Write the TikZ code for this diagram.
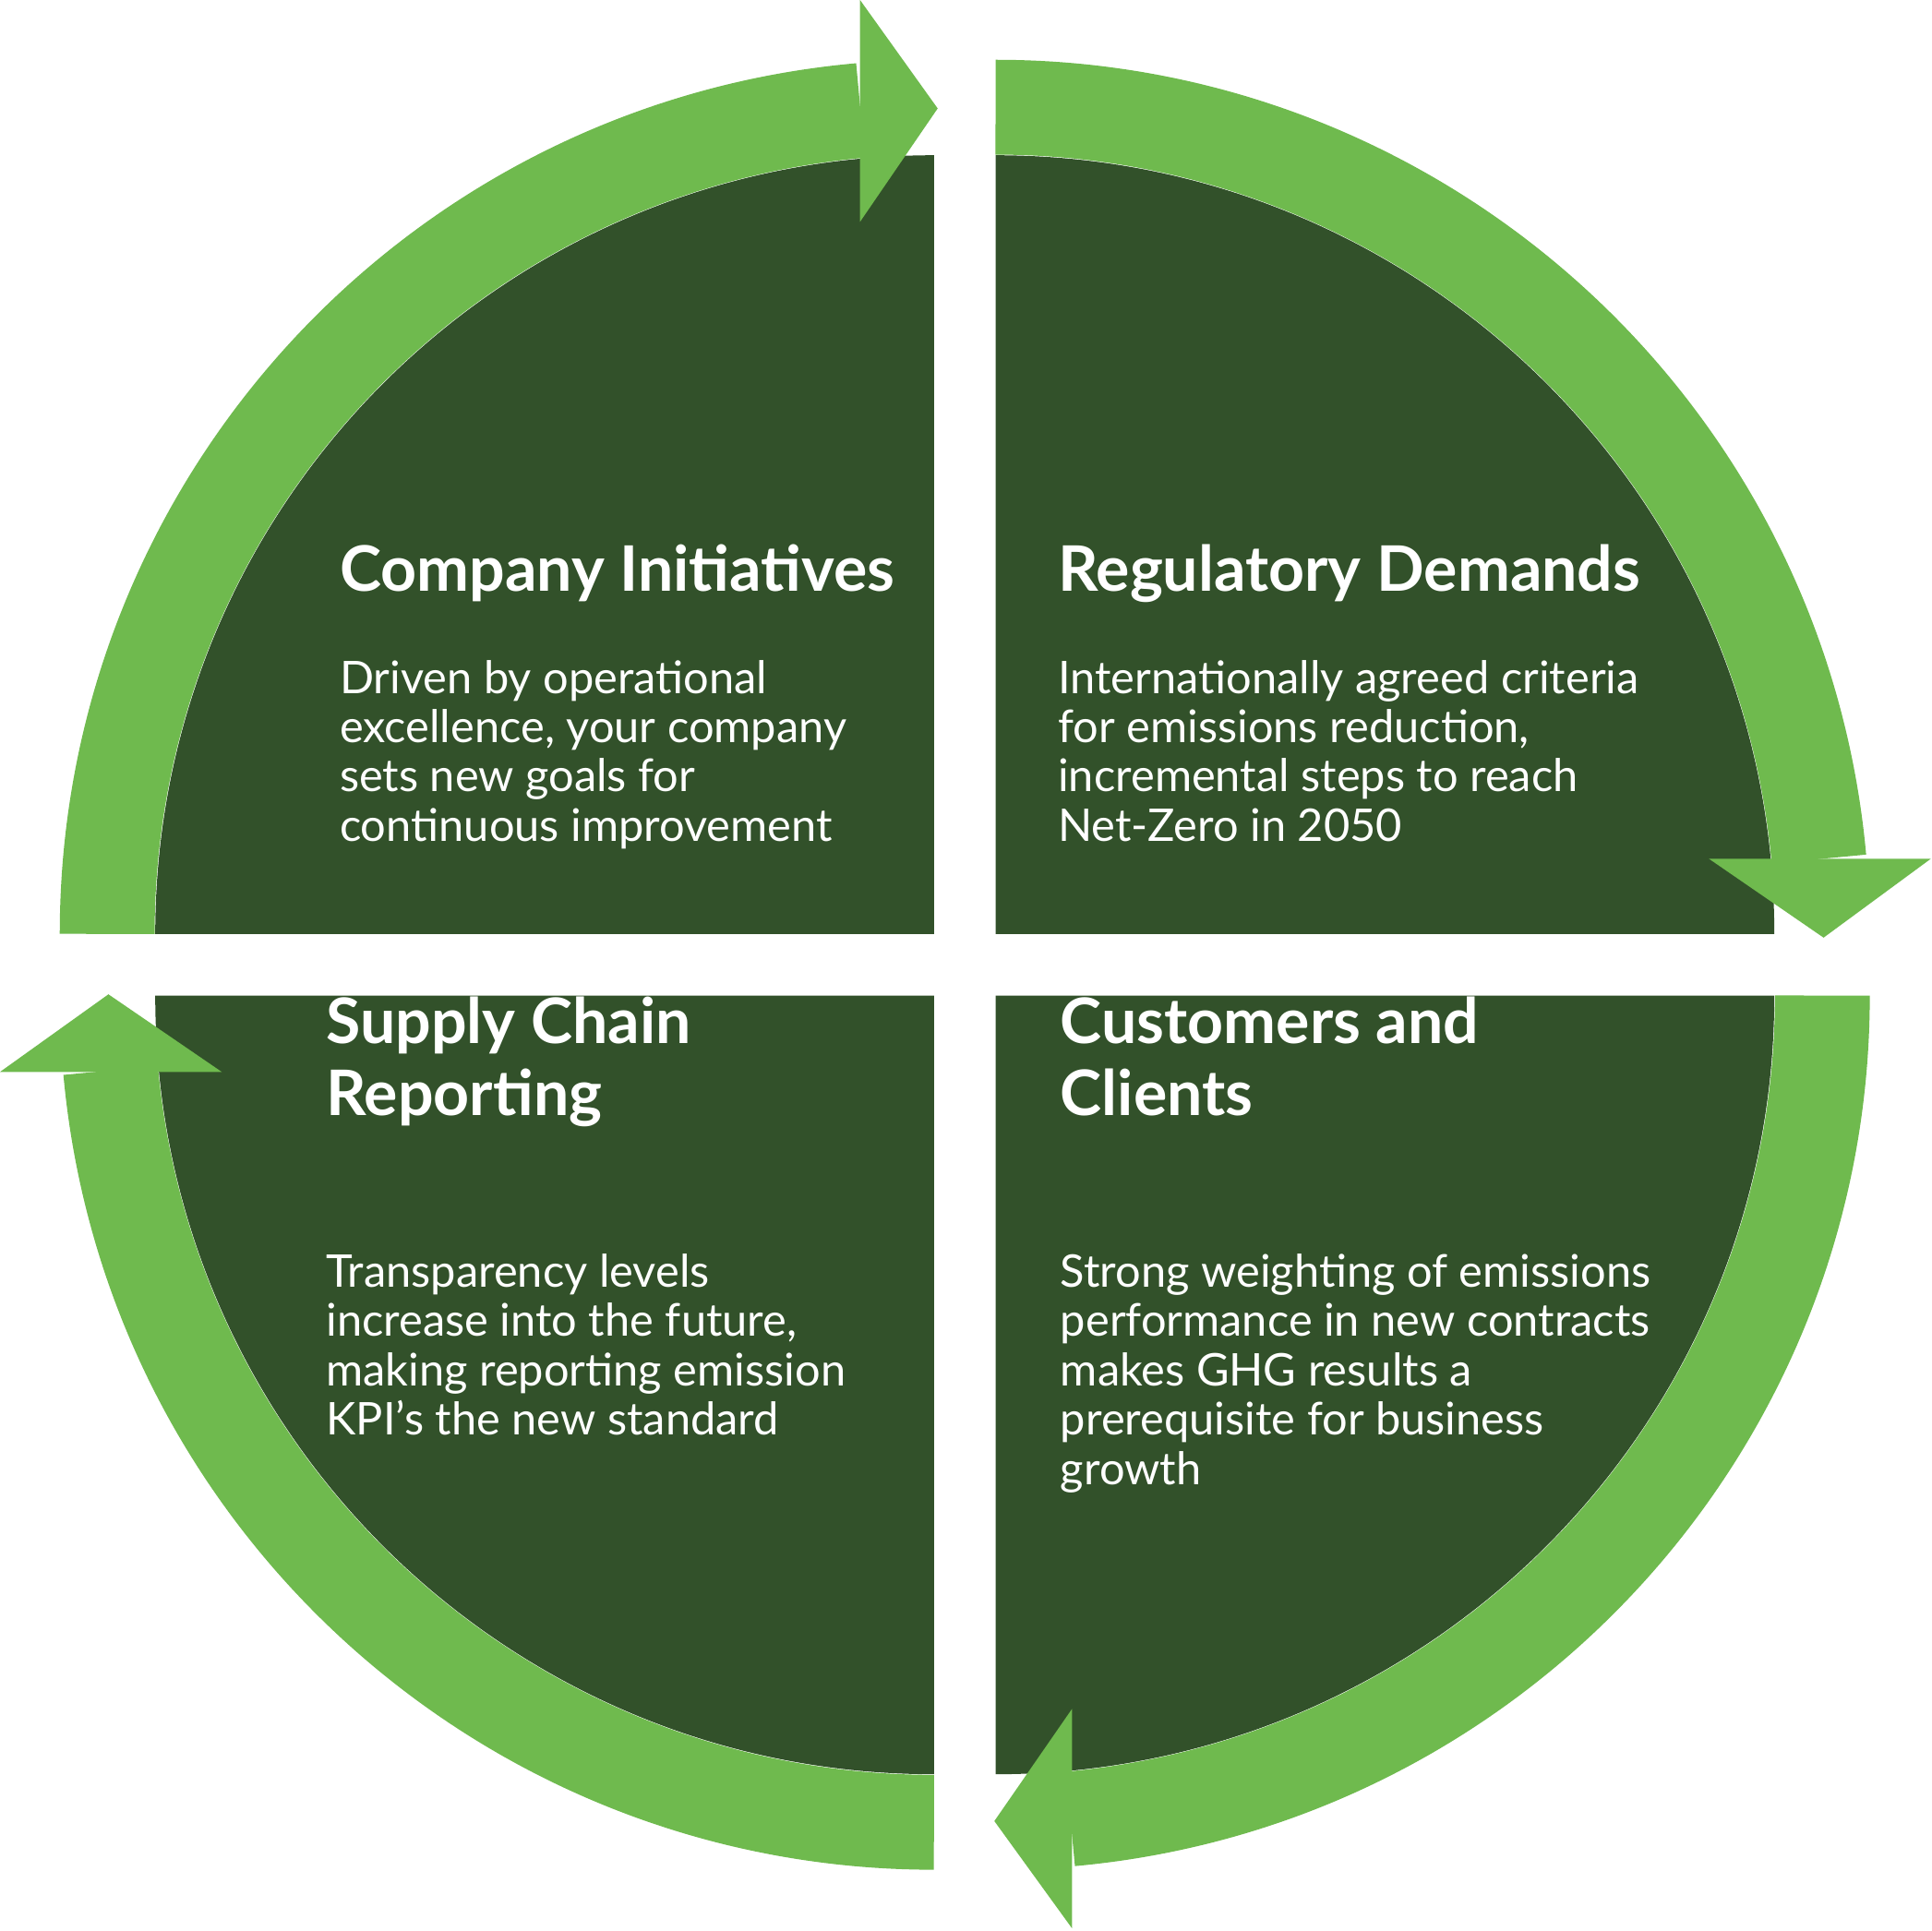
\documentclass[tikz,border=0pt]{standalone}
\usepackage{fontspec}
\setmainfont{Lato}
\usetikzlibrary{calc}
\usetikzlibrary{positioning}

\definecolor{ringgreen}{HTML}{6FBA4E}
\definecolor{darkgreen}{HTML}{32512A}

\tikzset{
  ring/.style = {draw = ringgreen, line width = 0.77cm},
  quad/.style = {fill = darkgreen},
  head/.style = {fill = ringgreen},
  title/.style = {anchor = base west, inner sep = 0pt, text = white,
    font = \bfseries\fontsize{14.5}{16.5}\selectfont, align = left},
  body/.style = {anchor = north west, inner sep = 0pt, text = white,
    font = \fontsize{10.4}{11.4}\selectfont, align = left}
}

\begin{document}
\begin{tikzpicture}
  \useasboundingbox (0, 0) rectangle (15.68, -15.67);

  \coordinate (TL) at (7.58, -7.58);
  \coordinate (TR) at (8.08, -7.58);
  \coordinate (BR) at (8.08, -8.08);
  \coordinate (BL) at (7.58, -8.08);

  % dark quarters
  \fill[quad] (TL) -- ++(180:6.32) arc[start angle = 180, end angle = 90, radius = 6.32] -- cycle;
  \fill[quad] (TR) -- ++(90:6.32) arc[start angle = 90, end angle = 0, radius = 6.32] -- cycle;
  \fill[quad] (BR) -- ++(0:6.32) arc[start angle = 0, end angle = -90, radius = 6.32] -- cycle;
  \fill[quad] (BL) -- ++(270:6.32) arc[start angle = 270, end angle = 180, radius = 6.32] -- cycle;

  % green ring pieces
  \draw[ring] ($(TL) + (180:6.71)$) arc[start angle = 180, end angle = 95.1, radius = 6.71];
  \draw[ring] ($(TR) + (90:6.71)$) arc[start angle = 90, end angle = 5.2, radius = 6.71];
  \draw[ring] ($(BR) + (0:6.71)$) arc[start angle = 0, end angle = -84.8, radius = 6.71];
  \draw[ring] ($(BL) + (270:6.71)$) arc[start angle = 270, end angle = 185.2, radius = 6.71];

  % arrow heads
  \fill[head] (6.98, 0) -- (6.98, -1.80) -- (7.61, -0.88) -- cycle;
  \fill[head] (13.87, -6.97) -- (15.67, -6.97) -- (14.80, -7.61) -- cycle;
  \fill[head] (8.70, -13.87) -- (8.70, -15.65) -- (8.07, -14.78) -- cycle;
  \fill[head] (0, -8.70) -- (1.80, -8.70) -- (0.88, -8.07) -- cycle;

  % texts
  \node[title] (initT) at (2.75, -4.80) {Company Initiatives};
  \node[body, below = 0.55cm of initT.base west, anchor = north west] (initB)
    {Driven by operational\\excellence, your company\\sets new goals for\\continuous improvement};

  \node[title] (reguT) at (8.58, -4.80) {Regulatory Demands};
  \node[body, below = 0.55cm of reguT.base west, anchor = north west] (reguB)
    {Internationally agreed criteria\\for emissions reduction,\\incremental steps to reach\\Net-Zero in 2050};

  \node[title] (suppT) at (2.64, -9.05) {Supply Chain\\Reporting};
  \node[body, below = 1.12cm of suppT.base west, anchor = north west] (suppB)
    {Transparency levels\\increase into the future,\\making reporting emission\\KPI’s the new standard};

  \node[title] (custT) at (8.60, -9.05) {Customers and\\Clients};
  \node[body, below = 1.12cm of custT.base west, anchor = north west] (custB)
    {Strong weighting of emissions\\performance in new contracts\\makes GHG results a\\prerequisite for business\\growth};
\end{tikzpicture}
\end{document}
